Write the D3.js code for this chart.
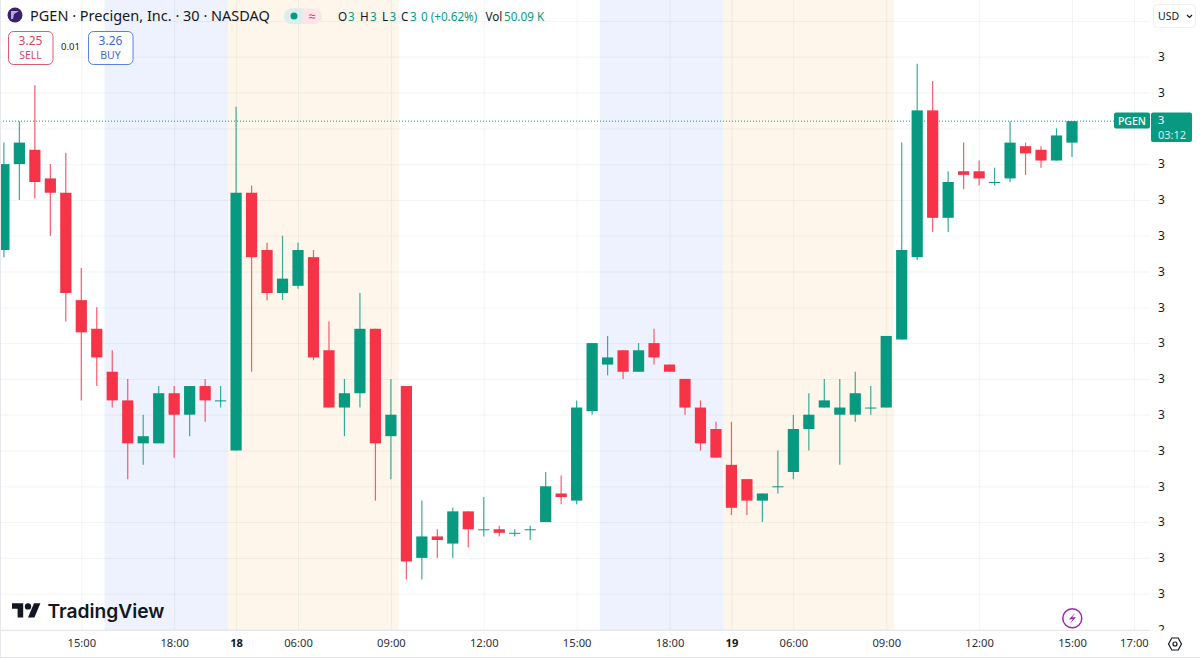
<!DOCTYPE html>
<html>
<head>
<meta charset="utf-8">
<style>
  html, body { margin: 0; padding: 0; background: #fff; }
  svg { display: block; font-family: "Noto Sans", "Open Sans", sans-serif; }
</style>
<script src="https://cdn.jsdelivr.net/npm/d3@7"></script>
</head>
<body>
<div id="chart"></div>
<script>
// 30 minute bars
const opens = [3.08,3.20,3.22,3.18,3.16,3.01,2.97,2.91,2.87,2.81,2.81,2.88,2.85,2.89,2.87,2.80,3.16,3.08,3.02,3.03,3.07,2.94,2.86,2.88,2.97,2.82,2.89,2.65,2.68,2.67,2.715,2.69,2.69,2.685,2.69,2.70,2.74,2.73,2.855,2.92,2.94,2.91,2.95,2.92,2.90,2.86,2.83,2.78,2.76,2.73,2.75,2.77,2.83,2.86,2.85,2.85,2.86,2.86,2.955,3.07,3.275,3.125,3.19,3.19,3.175,3.18,3.225,3.22,3.205,3.23];
const highs = [3.23,3.26,3.31,3.20,3.216,3.055,3.00,2.94,2.90,2.85,2.89,2.89,2.89,2.90,2.89,3.28,3.17,3.09,3.10,3.09,3.08,2.98,2.90,3.02,2.97,2.90,2.89,2.73,2.69,2.72,2.715,2.735,2.695,2.69,2.695,2.77,2.765,2.87,2.95,2.96,2.94,2.95,2.97,2.92,2.90,2.87,2.84,2.84,2.76,2.74,2.80,2.85,2.88,2.90,2.90,2.91,2.89,2.96,3.23,3.34,3.316,3.19,3.23,3.205,3.195,3.26,3.23,3.225,3.25,3.26];
const lows = [3.07,3.15,3.152,3.10,2.98,2.87,2.89,2.86,2.76,2.78,2.81,2.79,2.82,2.84,2.86,2.80,2.91,3.01,3.01,3.026,2.926,2.86,2.82,2.86,2.73,2.76,2.62,2.62,2.65,2.65,2.665,2.68,2.68,2.68,2.675,2.70,2.725,2.725,2.85,2.905,2.90,2.91,2.92,2.91,2.85,2.80,2.79,2.71,2.71,2.70,2.74,2.76,2.80,2.86,2.78,2.84,2.85,2.86,2.955,3.066,3.105,3.105,3.165,3.17,3.17,3.175,3.185,3.195,3.205,3.21];
const closes = [3.20,3.23,3.175,3.16,3.02,2.965,2.93,2.87,2.81,2.82,2.88,2.85,2.89,2.87,2.87,3.16,3.07,3.02,3.04,3.08,2.93,2.86,2.88,2.97,2.81,2.85,2.645,2.68,2.675,2.715,2.69,2.69,2.685,2.685,2.69,2.75,2.735,2.86,2.95,2.93,2.91,2.94,2.93,2.91,2.86,2.81,2.79,2.72,2.73,2.74,2.75,2.83,2.85,2.87,2.86,2.88,2.86,2.96,3.08,3.275,3.125,3.175,3.185,3.18,3.175,3.23,3.215,3.205,3.24,3.26];

const priceTicks = [3.40,3.35,3.30,3.25,3.20,3.15,3.10,3.05,3.00,2.95,2.90,2.85,2.80,2.75,2.70,2.65,2.60,2.55];
// 3.40 sits behind the USD button and 3.25 behind the last price tag
const priceLabels = ["","3","3","","3","3","3","3","3","3","3","3","3","3","3","3","3","2"];

const timeTicks = [5,11,15,19,25,31,37,43,47,51,57,63,69,73];
const timeLabels = ["15:00","18:00","18","06:00","09:00","12:00","15:00","18:00","19","06:00","09:00","12:00","15:00","17:00"];
const dayLabels = ["18","19"];

// extended hours shading, in bar numbers
const sessionStart = [6.5,14.5,38.5,46.5];
const sessionEnd = [14.5,25.5,46.5,57.5];
const sessionColor = ["#edf2fe","#fff6eb","#edf2fe","#fff6eb"];

const lastPrice = 3.26;

const width = 1200, height = 658;
const paneRight = 1150, paneBottom = 630.5;
const green = "#089981", red = "#f63347", ink = "#131722";

const x = d3.scaleLinear().domain([0, 73]).range([3.9, 1133.9]);
const y = d3.scaleLinear().domain([2.55, 3.40]).range([629.5, 20.9]);

const svg = d3.select("#chart").append("svg").attr("width", width).attr("height", height);

svg.append("clipPath").attr("id", "pane").append("rect")
  .attr("x", 1).attr("y", 0).attr("width", paneRight - 1).attr("height", paneBottom);
svg.append("clipPath").attr("id", "scale").append("rect")
  .attr("x", paneRight).attr("y", 0).attr("width", 50).attr("height", paneBottom);

const pane = svg.append("g").attr("clip-path", "url(#pane)");

pane.selectAll(".session")
  .data(sessionStart)
  .join("rect")
  .attr("class", "session")
  .attr("x", (d) => x(d))
  .attr("width", (d, i) => x(sessionEnd[i]) - x(d))
  .attr("y", 0)
  .attr("height", paneBottom)
  .attr("fill", (d, i) => sessionColor[i]);

// grid comes from the axis tick lines
const grid = "rgba(42,46,57,0.055)";
const xGrid = pane.append("g")
  .attr("transform", `translate(0,${paneBottom})`)
  .call(d3.axisBottom(x).tickValues(timeTicks).tickSize(-paneBottom).tickFormat(""));
const yGrid = pane.append("g")
  .call(d3.axisLeft(y).tickValues(priceTicks).tickSize(-paneRight).tickFormat(""));
[xGrid, yGrid].forEach((g) => {
  g.select(".domain").remove();
  g.selectAll("line").attr("stroke", grid);
});

// last price line
pane.append("line")
  .attr("x1", 0).attr("x2", 1114)
  .attr("y1", y(lastPrice)).attr("y2", y(lastPrice))
  .attr("stroke", green)
  .attr("stroke-width", 1)
  .attr("stroke-dasharray", "1 2");

const candle = (i) => (closes[i] >= opens[i] ? green : red);
const bars = d3.range(opens.length);

pane.selectAll(".wick")
  .data(bars)
  .join("line")
  .attr("class", "wick")
  .attr("x1", (i) => x(i)).attr("x2", (i) => x(i))
  .attr("y1", (i) => y(highs[i])).attr("y2", (i) => y(lows[i]))
  .attr("stroke", candle)
  .attr("stroke-opacity", 0.8)
  .attr("stroke-width", 1.2);

pane.selectAll(".body")
  .data(bars)
  .join("rect")
  .attr("class", "body")
  .attr("x", (i) => x(i) - 5.6)
  .attr("width", 11.2)
  .attr("y", (i) => y(Math.max(opens[i], closes[i])))
  .attr("height", (i) => Math.max(1, Math.abs(y(opens[i]) - y(closes[i]))))
  .attr("fill", candle);

// price scale
const yAxis = svg.append("g")
  .attr("clip-path", "url(#scale)")
  .append("g")
  .attr("transform", `translate(${paneRight},0)`)
  .call(d3.axisRight(y).tickValues(priceTicks).tickSize(0).tickPadding(8)
    .tickFormat((d, i) => priceLabels[i]));
yAxis.select(".domain").remove();
yAxis.selectAll("text").attr("fill", ink).attr("font-size", 12).attr("font-family", "Noto Sans");

// time scale
const xAxis = svg.append("g")
  .attr("transform", `translate(0,${paneBottom})`)
  .call(d3.axisBottom(x).tickValues(timeTicks).tickSize(0).tickPadding(9)
    .tickFormat((d, i) => timeLabels[i]));
xAxis.select(".domain").remove();
xAxis.selectAll("text")
  .attr("fill", (d, i) => (dayLabels.includes(timeLabels[i]) ? ink : "#2a2e39"))
  .attr("font-weight", (d, i) => (dayLabels.includes(timeLabels[i]) ? 700 : 400))
  .attr("font-size", 11.2)
  .attr("font-family", "Noto Sans");

svg.append("line").attr("x1", 0).attr("x2", paneRight).attr("y1", paneBottom).attr("y2", paneBottom).attr("stroke", "#e6e8ee");
svg.append("line").attr("x1", 0).attr("x2", width).attr("y1", 657.5).attr("y2", 657.5).attr("stroke", "#e0e3eb");
svg.append("line").attr("x1", 0.5).attr("x2", 0.5).attr("y1", 0).attr("y2", height).attr("stroke", "#e6e8ee");

// last price tags
svg.append("rect").attr("x", 1114).attr("y", 112.5).attr("width", 36).attr("height", 16).attr("rx", 2).attr("fill", green);
svg.append("rect").attr("x", 1151).attr("y", 112.5).attr("width", 41).attr("height", 29.5).attr("rx", 2).attr("fill", green);
svg.append("text").attr("x", 1132).attr("y", 124.5).attr("text-anchor", "middle").attr("font-size", 10.5).attr("font-weight", 500).attr("fill", "#fff").text("PGEN");
svg.append("text").attr("x", 1158).attr("y", 124).attr("font-size", 11).attr("fill", "#fff").text("3");
svg.append("text").attr("x", 1158).attr("y", 138.5).attr("font-size", 11).attr("fill", "#d5efe9").text("03:12");

// USD button
svg.append("rect").attr("x", 1153.5).attr("y", 4.5).attr("width", 42).attr("height", 23).attr("rx", 4)
  .attr("fill", "#fff").attr("stroke", "#f0f1f4");
svg.append("text").attr("x", 1158).attr("y", 20).attr("font-size", 10.5).attr("fill", ink).text("USD");
svg.append("path").attr("d", "M1187 15l2.5 2.5 2.5-2.5").attr("fill", "none").attr("stroke", ink).attr("stroke-width", 1.2);

// header
svg.append("circle").attr("cx", 15).attr("cy", 15).attr("r", 7.5).attr("fill", "#3c1f6e");
svg.append("path").attr("d", "M11 11h8l-5 3-1 5h-2z").attr("fill", "#b9aecb");
svg.append("text").attr("x", 30).attr("y", 21).attr("font-size", 14.5).attr("fill", ink)
  .text("PGEN · Precigen, Inc. · 30 · NASDAQ");

svg.append("rect").attr("x", 284).attr("y", 8.5).attr("width", 38).attr("height", 15.5).attr("rx", 7.5).attr("fill", "#fbe4ea");
svg.append("path").attr("d", "M291.5 8.5h11v15.5h-11a7.5 7.75 0 0 1 0-15.5z").attr("fill", "#d9efe9");
svg.append("circle").attr("cx", 294).attr("cy", 16).attr("r", 3.5).attr("fill", green);
svg.append("text").attr("x", 312).attr("y", 21).attr("text-anchor", "middle").attr("font-size", 13).attr("fill", "#e0355f").text("≈");

const ohlc = svg.append("text").attr("y", 20.5).attr("font-size", 11.7).attr("fill", ink);
const part = (t, px, c) => ohlc.append("tspan").attr("x", px).attr("fill", c).text(t);
part("O", 338, ink); part("3", 348, green);
part("H", 360, ink); part("3", 370, green);
part("L", 382, ink); part("3", 389.5, green);
part("C", 401, ink); part("3", 410, green);
part("0 (+0.62%)", 421, green);
part("Vol", 485.5, ink); part("50.09 K", 504, green);

// sell and buy buttons
svg.append("rect").attr("x", 8.5).attr("y", 31.5).attr("width", 44.5).attr("height", 33).attr("rx", 5)
  .attr("fill", "#fff").attr("stroke", "#e0596e");
svg.append("text").attr("x", 30.5).attr("y", 45).attr("text-anchor", "middle").attr("font-size", 12).attr("fill", "#e0455c").text("3.25");
svg.append("text").attr("x", 30.5).attr("y", 59).attr("text-anchor", "middle").attr("font-size", 10.5).attr("fill", "#e0455c").text("SELL");
svg.append("text").attr("x", 70.5).attr("y", 50).attr("text-anchor", "middle").attr("font-size", 9.5).attr("fill", ink).text("0.01");
svg.append("rect").attr("x", 88.5).attr("y", 31.5).attr("width", 44.5).attr("height", 33).attr("rx", 5)
  .attr("fill", "#fff").attr("stroke", "#5b7fe6");
svg.append("text").attr("x", 110.5).attr("y", 45).attr("text-anchor", "middle").attr("font-size", 12).attr("fill", "#3d68e0").text("3.26");
svg.append("text").attr("x", 110.5).attr("y", 59).attr("text-anchor", "middle").attr("font-size", 10.5).attr("fill", "#3d68e0").text("BUY");

// TradingView mark
svg.append("path")
  .attr("transform", "translate(12,600) scale(0.8)")
  .attr("d", "M14 22H7V11H0V4h14v18zM28 22h-8l7.5-18h8L28 22z")
  .attr("fill", "#131722");
svg.append("circle").attr("cx", 28).attr("cy", 606.4).attr("r", 3.2).attr("fill", "#131722");
svg.append("text").attr("x", 47.5).attr("y", 617.5).attr("font-size", 19.2).attr("font-weight", 600)
  .attr("font-family", "Inter").attr("fill", "#131722").text("TradingView");

// bolt badge
svg.append("circle").attr("cx", 1072.3).attr("cy", 618.3).attr("r", 9.5).attr("fill", "#fff").attr("stroke", "#9c27b0").attr("stroke-width", 1.5);
svg.append("path").attr("d", "M1075.5 612.5l-6.5 6.8h3.8l-3.3 4.7 6.5-6.8h-3.8z").attr("fill", "#9c27b0");

// settings icon
svg.append("path").attr("d", "M1168.5 644l3.3-6h6.4l3.3 6-3.3 6h-6.4z").attr("fill", "none").attr("stroke", ink).attr("stroke-width", 1.2);
svg.append("circle").attr("cx", 1175).attr("cy", 644).attr("r", 2).attr("fill", "none").attr("stroke", ink).attr("stroke-width", 1.2);
</script>
</body>
</html>
